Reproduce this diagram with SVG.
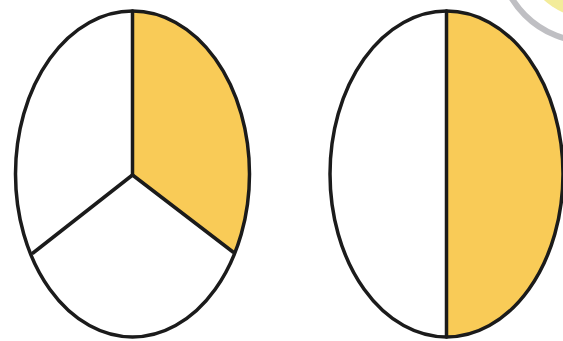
<svg xmlns="http://www.w3.org/2000/svg" width="563" height="341" viewBox="0 0 563 341">
<style>
.outline{fill:none;stroke:#1b1b1b;stroke-width:3.5}
.div{stroke:#1b1b1b;stroke-width:3.5;stroke-linecap:round;fill:none}
.shade{fill:#F9CB57}
</style>
<defs>
<clipPath id="clipL"><ellipse cx="132.5" cy="174" rx="117" ry="163"/></clipPath>
<clipPath id="clipR"><ellipse cx="446.5" cy="174" rx="116.5" ry="163"/></clipPath>
</defs>
<rect width="563" height="341" fill="#ffffff"/>
<g id="badge">
<circle cx="590" cy="-50" r="92" fill="#ffffff" stroke="#b9b9bd" stroke-width="6" opacity="0.9"/>
<circle cx="590" cy="-50" r="68" fill="#F3EC9A"/>
</g>
<g id="thirds">
<ellipse cx="132.5" cy="174" rx="117" ry="163" fill="#ffffff"/>
<polygon class="shade" clip-path="url(#clipL)" points="132.5,175 132.5,0 270,0 270,280"/>
<line class="div" x1="132.5" y1="11" x2="132.5" y2="175"/>
<line class="div" x1="132.5" y1="175" x2="33" y2="253"/>
<line class="div" x1="132.5" y1="175" x2="233" y2="252"/>
<ellipse class="outline" cx="132.5" cy="174" rx="117" ry="163"/>
</g>
<g id="halves">
<ellipse cx="446.5" cy="174" rx="116.5" ry="163" fill="#ffffff"/>
<rect class="shade" clip-path="url(#clipR)" x="446.5" y="0" width="120" height="341"/>
<line class="div" x1="446.5" y1="11" x2="446.5" y2="337"/>
<ellipse class="outline" cx="446.5" cy="174" rx="116.5" ry="163"/>
</g>
</svg>
